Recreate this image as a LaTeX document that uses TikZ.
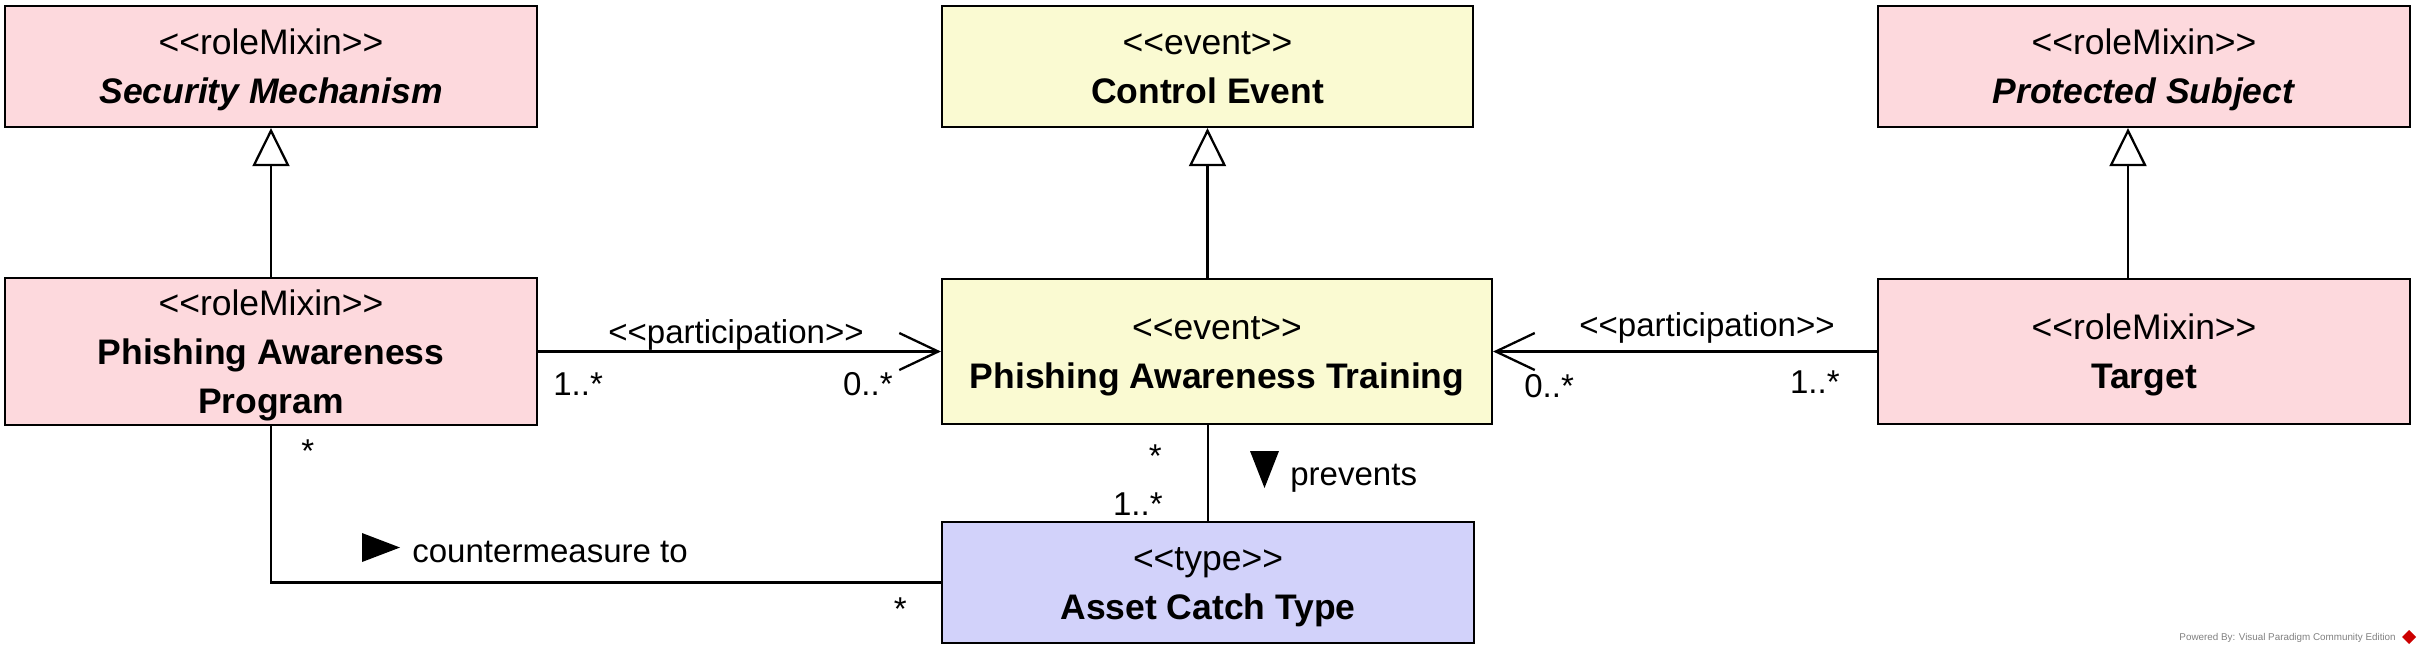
\documentclass[tikz,border=0pt]{standalone}
\usepackage{fontspec}
\setmainfont{Liberation Sans}
\usepackage{array}
\usepackage{tikz}
\usetikzlibrary{arrows.meta,calc}

\definecolor{rolepink}{RGB}{253,217,221}
\definecolor{eventyellow}{RGB}{250,250,210}
\definecolor{typeblue}{RGB}{210,210,250}

% keeps << and >> from turning into guillemets
\newcommand{\stereo}[1]{<\kern0pt<#1>\kern0pt>}
% class text, centred lines with a fixed pitch
\newcommand{\clstext}[1]{\setlength{\extrarowheight}{0.2cm}%
  \begin{tabular}[t]{@{}c@{}}#1\end{tabular}}

\tikzset{
  cls/.style={draw,line width=1.3pt,inner sep=0pt,
    font=\fontsize{20.2}{22.2}\selectfont},
  lbl/.style={inner sep=0pt,font=\fontsize{18.8}{22}\selectfont},
  gen/.style={line width=1.3pt,-{Triangle[open,length=0.76cm,width=0.74cm,fill=white]}},
  nav/.style={line width=1.3pt,-{Straight Barb[length=0.78cm,width=0.74cm]}},
  assoc/.style={line width=1.3pt}
}

\begin{document}
\begin{tikzpicture}[x=0.02cm,y=-0.02cm]
\useasboundingbox (0,0) rectangle (2421,654);

% Top row
\node[cls,fill=rolepink,minimum width=10.64cm,minimum height=2.42cm] (sm) at (271,66.5)
  {\clstext{\stereo{roleMixin}\\\textbf{\textit{Security Mechanism}}}};
\node[cls,fill=eventyellow,minimum width=10.62cm,minimum height=2.42cm] (ce) at (1207.5,66.5)
  {\clstext{\stereo{event}\\\textbf{Control Event}}};
\node[cls,fill=rolepink,minimum width=10.64cm,minimum height=2.42cm] (ps) at (2144,66.5)
  {\clstext{\stereo{roleMixin}\\\textbf{\textit{Protected Subject}}}};

% Middle row
\node[cls,fill=rolepink,minimum width=10.64cm,minimum height=2.9cm] (pap) at (271,351.5)
  {\clstext{\stereo{roleMixin}\\\textbf{Phishing Awareness}\\\textbf{Program}}};
\node[cls,fill=eventyellow,minimum width=11cm,minimum height=2.9cm] (pat) at (1217,351.5)
  {\clstext{\stereo{event}\\\textbf{Phishing Awareness Training}}};
\node[cls,fill=rolepink,minimum width=10.64cm,minimum height=2.9cm] (tgt) at (2144,351.5)
  {\clstext{\stereo{roleMixin}\\\textbf{Target}}};

% Bottom
\node[cls,fill=typeblue,minimum width=10.64cm,minimum height=2.42cm] (act) at (1208,582.5)
  {\clstext{\stereo{type}\\\textbf{Asset Catch Type}}};

% Generalizations
\draw[gen] (pap.north) -- (sm.south);
\draw[gen] (ce.south |- pat.north) -- (ce.south);
\draw[gen] ($(tgt.north)+(-16,0)$) -- ($(ps.south)+(-16,0)$);

% Participations
\draw[nav] (pap.east) -- (pat.west);
\node[lbl,anchor=base] (part1) at (736,343) {\stereo{participation}};
\node[lbl,anchor=base west] (m1) at (553,395) {1..*};
\node[lbl,anchor=base east] (m2) at (893,395) {0..*};

\draw[nav] (tgt.west) -- (pat.east);
\node[lbl,anchor=base] (part2) at (1707,336) {\stereo{participation}};
\node[lbl,anchor=base west] (m3) at (1524,397) {0..*};
\node[lbl,anchor=base east] (m4) at (1840,393) {1..*};

% prevents
\draw[assoc] (act.north |- pat.south) -- (act.north);
\node[lbl,anchor=base east] (m5) at (1162,467) {*};
\node[lbl,anchor=base east] (m6) at (1163,515) {1..*};
\fill (1250,451) -- (1279,451) -- (1264.5,488) -- cycle;
\node[lbl,anchor=base west] (prev) at (1290,485) {prevents};

% countermeasure to
\draw[assoc] (pap.south) |- (act.west);
\node[lbl,anchor=base west] (m7) at (301,462) {*};
\node[lbl,anchor=base east] (m8) at (907,620) {*};
\fill (362,533) -- (400,547.5) -- (362,562) -- cycle;
\node[lbl,anchor=base west] (cmt) at (412,562) {countermeasure to};

% Watermark
\node[anchor=base east,inner sep=0pt,text=gray,font=\fontsize{5.6}{6}\selectfont] (vp) at (2396,640)
  {Powered By: Visual Paradigm Community Edition};
\fill[red!80!black] (2409,630) -- (2416,637) -- (2409,644) -- (2402,637) -- cycle;

\end{tikzpicture}
\end{document}
